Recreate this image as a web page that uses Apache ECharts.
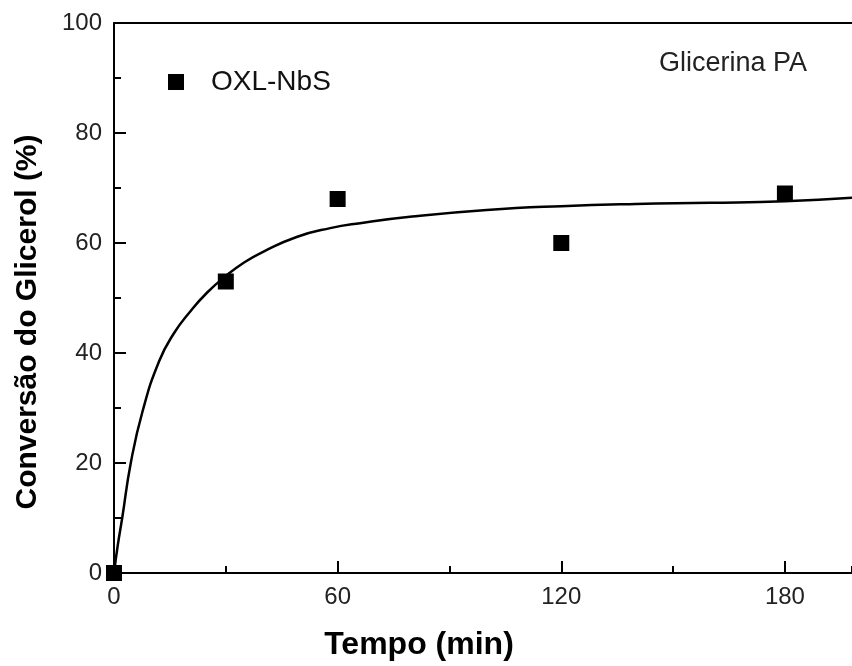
<!DOCTYPE html>
<html>
<head>
<meta charset="utf-8">
<script src="https://cdn.jsdelivr.net/npm/echarts@6/dist/echarts.min.js"></script>
<style>html,body{margin:0;padding:0;background:#fff}#c{width:852px;height:666px}</style>
</head>
<body>
<div id="c"></div>
<script>
// Measured points (time in min, conversion in %)
const pointTimes = [0, 30, 60, 120, 180];
const pointValues = [0, 53, 68, 60, 69];
// Fitted curve
const curveTimes = [0, 1, 2.2, 4.5, 7.7, 12.1, 16, 20.4, 25, 30, 35, 40, 49, 58, 66, 80, 100, 120, 140, 160, 180, 200];
const curveValues = [0, 5, 10, 20, 29.5, 38.5, 43.5, 47.5, 51, 54, 56.5, 58.4, 61.1, 62.7, 63.6, 64.8, 66.0, 66.7, 67.1, 67.3, 67.6, 68.3];
const seriesName = 'OXL-NbS';
const annotation = 'Glicerina PA';
const xTitle = 'Tempo (min)';
const yTitle = 'Conversão do Glicerol (%)';

const chart = echarts.init(document.getElementById('c'), null, {renderer: 'canvas'});
const font = 'Liberation Sans, Arial, sans-serif';
const blk = {color: '#000', width: 2};
chart.setOption({
  animation: false,
  backgroundColor: '#fff',
  textStyle: {fontFamily: font},
  title: {
    text: annotation, left: 654, top: 45,
    textStyle: {fontFamily: font, fontSize: 27, fontWeight: 'normal', color: '#222'}
  },
  legend: {
    data: [seriesName], left: 163, top: 63, icon: 'rect', itemWidth: 16, itemHeight: 16,
    itemStyle: {opacity: 1},
    textStyle: {fontFamily: font, fontSize: 28, color: '#111', padding: [0, 0, 0, 22]}
  },
  grid: {left: 114, top: 23, right: 0, bottom: 93, show: false},
  xAxis: [
    {
      type: 'value', min: 0, max: 198, interval: 60, position: 'bottom',
      name: xTitle, nameLocation: 'middle', nameGap: 56,
      nameTextStyle: {fontFamily: font, fontSize: 32, fontWeight: 'bold', color: '#000', padding: [0, 128, 0, 0]},
      axisLine: {show: true, lineStyle: blk},
      axisTick: {show: true, inside: true, length: 12, lineStyle: blk},
      axisLabel: {fontFamily: font, fontSize: 24, color: '#222', margin: 12, showMaxLabel: false},
      splitLine: {show: false}
    },
    {
      type: 'value', min: 0, max: 198, interval: 30, position: 'bottom', gridIndex: 0,
      axisLine: {show: false},
      axisTick: {show: true, inside: true, length: 7, lineStyle: blk},
      axisLabel: {show: false}, splitLine: {show: false}
    },
    {
      type: 'value', min: 0, max: 198, position: 'top', gridIndex: 0,
      axisLine: {show: true, lineStyle: blk},
      axisTick: {show: false}, axisLabel: {show: false}, splitLine: {show: false}
    }
  ],
  yAxis: {
    type: 'value', min: 0, max: 100, interval: 20,
    name: yTitle, nameLocation: 'middle', nameGap: 71,
    nameTextStyle: {fontFamily: font, fontSize: 30, fontWeight: 'bold', color: '#000', padding: [0, 48, 0, 0]},
    axisLine: {show: true, lineStyle: blk},
    axisTick: {show: true, inside: true, length: 12, lineStyle: blk},
    minorTick: {show: true, splitNumber: 2, length: 7, lineStyle: blk},
    axisLabel: {fontFamily: font, fontSize: 24, color: '#222', margin: 12},
    splitLine: {show: false}, minorSplitLine: {show: false}
  },
  series: [
    {
      name: 'fit', type: 'line', smooth: 0.5, showSymbol: false, silent: true,
      data: curveTimes.map((t, i) => [t, curveValues[i]]),
      lineStyle: {color: '#000', width: 2.5}, z: 2
    },
    {
      name: seriesName, type: 'scatter', symbol: 'rect', symbolSize: 16,
      data: pointTimes.map((t, i) => [t, pointValues[i]]),
      itemStyle: {color: '#000', opacity: 1}, z: 3
    }
  ]
});
</script>
</body>
</html>
